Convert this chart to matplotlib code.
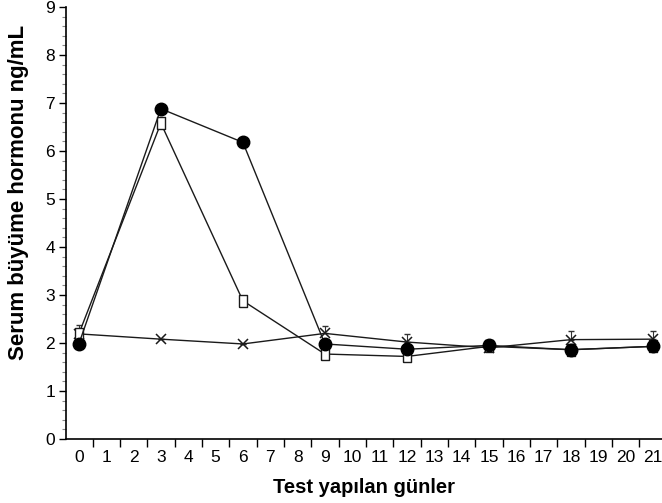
import numpy as np
import matplotlib
matplotlib.use("Agg")
import matplotlib.pyplot as plt
from matplotlib.ticker import MultipleLocator

plt.rcParams['font.family'] = ['Liberation Sans', 'DejaVu Sans']

# test days and hormone values
days = [0, 3, 6, 9, 12, 15, 18, 21]
filled_circle = [1.98, 6.88, 6.18, 1.98, 1.87, 1.95, 1.86, 1.93]
open_square = [2.19, 6.58, 2.88, 1.77, 1.72, 1.93, 1.86, 1.93]
cross = [2.19, 2.08, 1.98, 2.20, 2.02, 1.90, 2.07, 2.08]
cross_err = [0.0, 0.0, 0.0, 0.16, 0.16, 0.0, 0.17, 0.16]
square_err = [0.18, 0, 0, 0, 0, 0, 0, 0]

day_labels = [str(d) for d in range(22)]

# tall narrow open box, like the scanned figure
box = [(-0.32, -0.5), (0.32, -0.5), (0.32, 0.5), (-0.32, 0.5), (-0.32, -0.5)]

fig = plt.figure(figsize=(6.62, 5.03), dpi=100)
ax = fig.add_axes([66 / 662, 64 / 503, 596 / 662, 432 / 503])

line_kw = dict(color='#1a1a1a', lw=1.0)

ax.plot(days, cross, **line_kw, marker='x', ms=7, mew=1.1, zorder=3)
ax.errorbar(days, cross, yerr=[np.zeros(len(days)), cross_err], fmt='none',
            ecolor='#333333', elinewidth=0.8, capsize=2.5, zorder=2)
ax.plot(days, open_square, **line_kw, marker=box, ms=9, mfc='white',
        mec='#1a1a1a', mew=1.0, zorder=4)
ax.errorbar(days, open_square, yerr=[np.zeros(len(days)), square_err],
            fmt='none', ecolor='#333333', elinewidth=0.8, capsize=2.5, zorder=2)
ax.plot(days, filled_circle, **line_kw, marker='o', ms=9, mfc='black',
        mec='black', zorder=5)

ax.set_xlim(-0.47, 21.33)
ax.set_ylim(0, 9)

ax.set_xticks(range(22))
ax.set_xticklabels(day_labels)
ax.xaxis.set_minor_locator(MultipleLocator(1, offset=0.5))
ax.tick_params(axis='x', which='major', length=0, pad=8, labelsize=12.5)
ax.tick_params(axis='x', which='minor', length=6, width=1, direction='out')

ax.yaxis.set_major_locator(MultipleLocator(1))
ax.yaxis.set_minor_locator(MultipleLocator(0.2))
ax.tick_params(axis='y', which='major', length=5, width=1, labelsize=12.5, pad=3)
ax.tick_params(axis='y', which='minor', length=3, width=0.8, color='#888888')

ax.spines['top'].set_visible(False)
ax.spines['right'].set_visible(False)
ax.spines['left'].set_linewidth(1.2)
ax.spines['bottom'].set_linewidth(1.2)

ax.set_xlabel('Test yapılan günler', fontsize=14.5, fontweight='bold', labelpad=9)
ax.set_ylabel('Serum büyüme hormonu ng/mL', fontsize=16, fontweight='bold')
ax.yaxis.set_label_coords(-0.062, 0.57)

fig.savefig('out.png', dpi=100)
